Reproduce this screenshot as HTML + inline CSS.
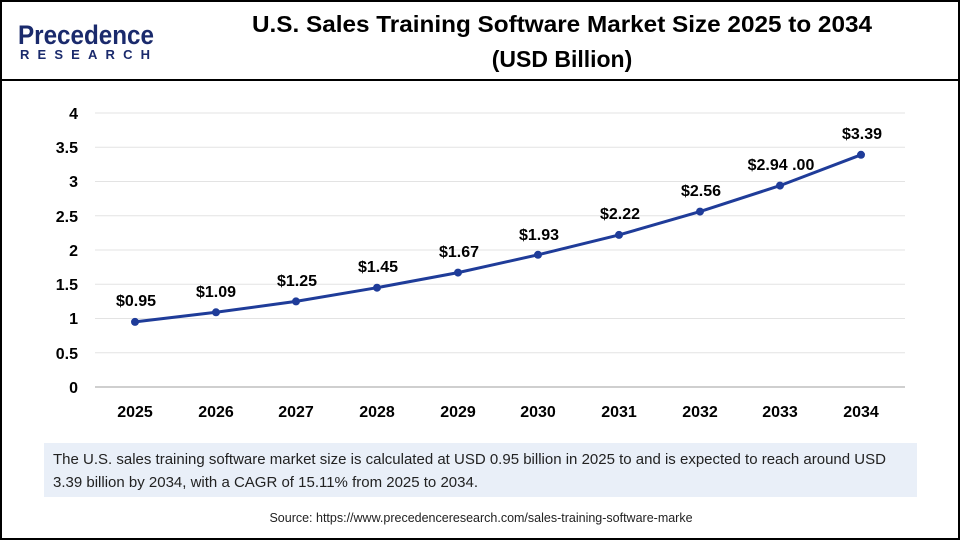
<!DOCTYPE html>
<html><head><style>
body{margin:0;width:960px;height:540px;overflow:hidden;background:#fff;font-family:"Liberation Sans",Arial,sans-serif}
</style></head><body>
<svg width="960" height="540" xmlns="http://www.w3.org/2000/svg" font-family="Liberation Sans, Arial, sans-serif">
<rect x="1" y="1" width="958" height="538" fill="#fff" stroke="#000" stroke-width="2"/>
<line x1="0" y1="80" x2="960" y2="80" stroke="#000" stroke-width="2"/>
<text x="18" y="44" font-size="27" fill="#1a2a6c" font-weight="bold" textLength="136" lengthAdjust="spacingAndGlyphs">Precedence</text>
<text x="20" y="59" font-size="13" fill="#1a2a6c" font-weight="bold" textLength="130" lengthAdjust="spacing">RESEARCH</text>
<text x="562" y="32" font-size="23" font-weight="bold" text-anchor="middle" fill="#000" textLength="620" lengthAdjust="spacingAndGlyphs">U.S. Sales Training Software Market Size 2025 to 2034</text>
<text x="562" y="67" font-size="23" font-weight="bold" text-anchor="middle" fill="#000">(USD Billion)</text>
<g stroke="#e3e3e3" stroke-width="1">
<line x1="95" x2="905" y1="113" y2="113"/><line x1="95" x2="905" y1="147.3" y2="147.3"/>
<line x1="95" x2="905" y1="181.5" y2="181.5"/><line x1="95" x2="905" y1="215.8" y2="215.8"/>
<line x1="95" x2="905" y1="250" y2="250"/><line x1="95" x2="905" y1="284.3" y2="284.3"/>
<line x1="95" x2="905" y1="318.5" y2="318.5"/><line x1="95" x2="905" y1="352.8" y2="352.8"/>
</g>
<line x1="95" x2="905" y1="387" y2="387" stroke="#bfbfbf" stroke-width="1.5"/>
<g font-size="16" font-weight="bold" text-anchor="end" fill="#000">
<text x="78" y="119">4</text><text x="78" y="153">3.5</text><text x="78" y="187">3</text>
<text x="78" y="222">2.5</text><text x="78" y="256">2</text><text x="78" y="290">1.5</text>
<text x="78" y="324">1</text><text x="78" y="359">0.5</text><text x="78" y="393">0</text>
</g>
<g font-size="16" font-weight="bold" text-anchor="middle" fill="#000">
<text x="135" y="417">2025</text><text x="216" y="417">2026</text><text x="296" y="417">2027</text>
<text x="377" y="417">2028</text><text x="458" y="417">2029</text><text x="538" y="417">2030</text>
<text x="619" y="417">2031</text><text x="700" y="417">2032</text><text x="780" y="417">2033</text>
<text x="861" y="417">2034</text>
</g>
<polyline fill="none" stroke="#1f3c99" stroke-width="3" points="135,321.9 216,312.3 296,301.4 377,287.7 458,272.6 538,254.8 619,234.9 700,211.6 780,185.6 861,154.8"/>
<g fill="#1f3c99">
<circle cx="135" cy="321.9" r="4"/><circle cx="216" cy="312.3" r="4"/><circle cx="296" cy="301.4" r="4"/>
<circle cx="377" cy="287.7" r="4"/><circle cx="458" cy="272.6" r="4"/><circle cx="538" cy="254.8" r="4"/>
<circle cx="619" cy="234.9" r="4"/><circle cx="700" cy="211.6" r="4"/><circle cx="780" cy="185.6" r="4"/>
<circle cx="861" cy="154.8" r="4"/>
</g>
<g font-size="16" font-weight="bold" text-anchor="middle" fill="#000">
<text x="136" y="306">$0.95</text><text x="216" y="297">$1.09</text><text x="297" y="286">$1.25</text>
<text x="378" y="272">$1.45</text><text x="459" y="257">$1.67</text><text x="539" y="240">$1.93</text>
<text x="620" y="219">$2.22</text><text x="701" y="196">$2.56</text><text x="781" y="170">$2.94 .00</text>
<text x="862" y="139">$3.39</text>
</g>
<rect x="44" y="443" width="873" height="54" fill="#e9eff8"/>
<text x="53" y="464" font-size="15" fill="#222">The U.S. sales training software market size is calculated at USD 0.95 billion in 2025 to and is expected to reach around USD</text>
<text x="53" y="487" font-size="15" fill="#222">3.39 billion by 2034, with a CAGR of 15.11% from 2025 to 2034.</text>
<text x="481" y="522" font-size="12.5" text-anchor="middle" fill="#222">Source: https://www.precedenceresearch.com/sales-training-software-marke</text>
</svg>
</body></html>
